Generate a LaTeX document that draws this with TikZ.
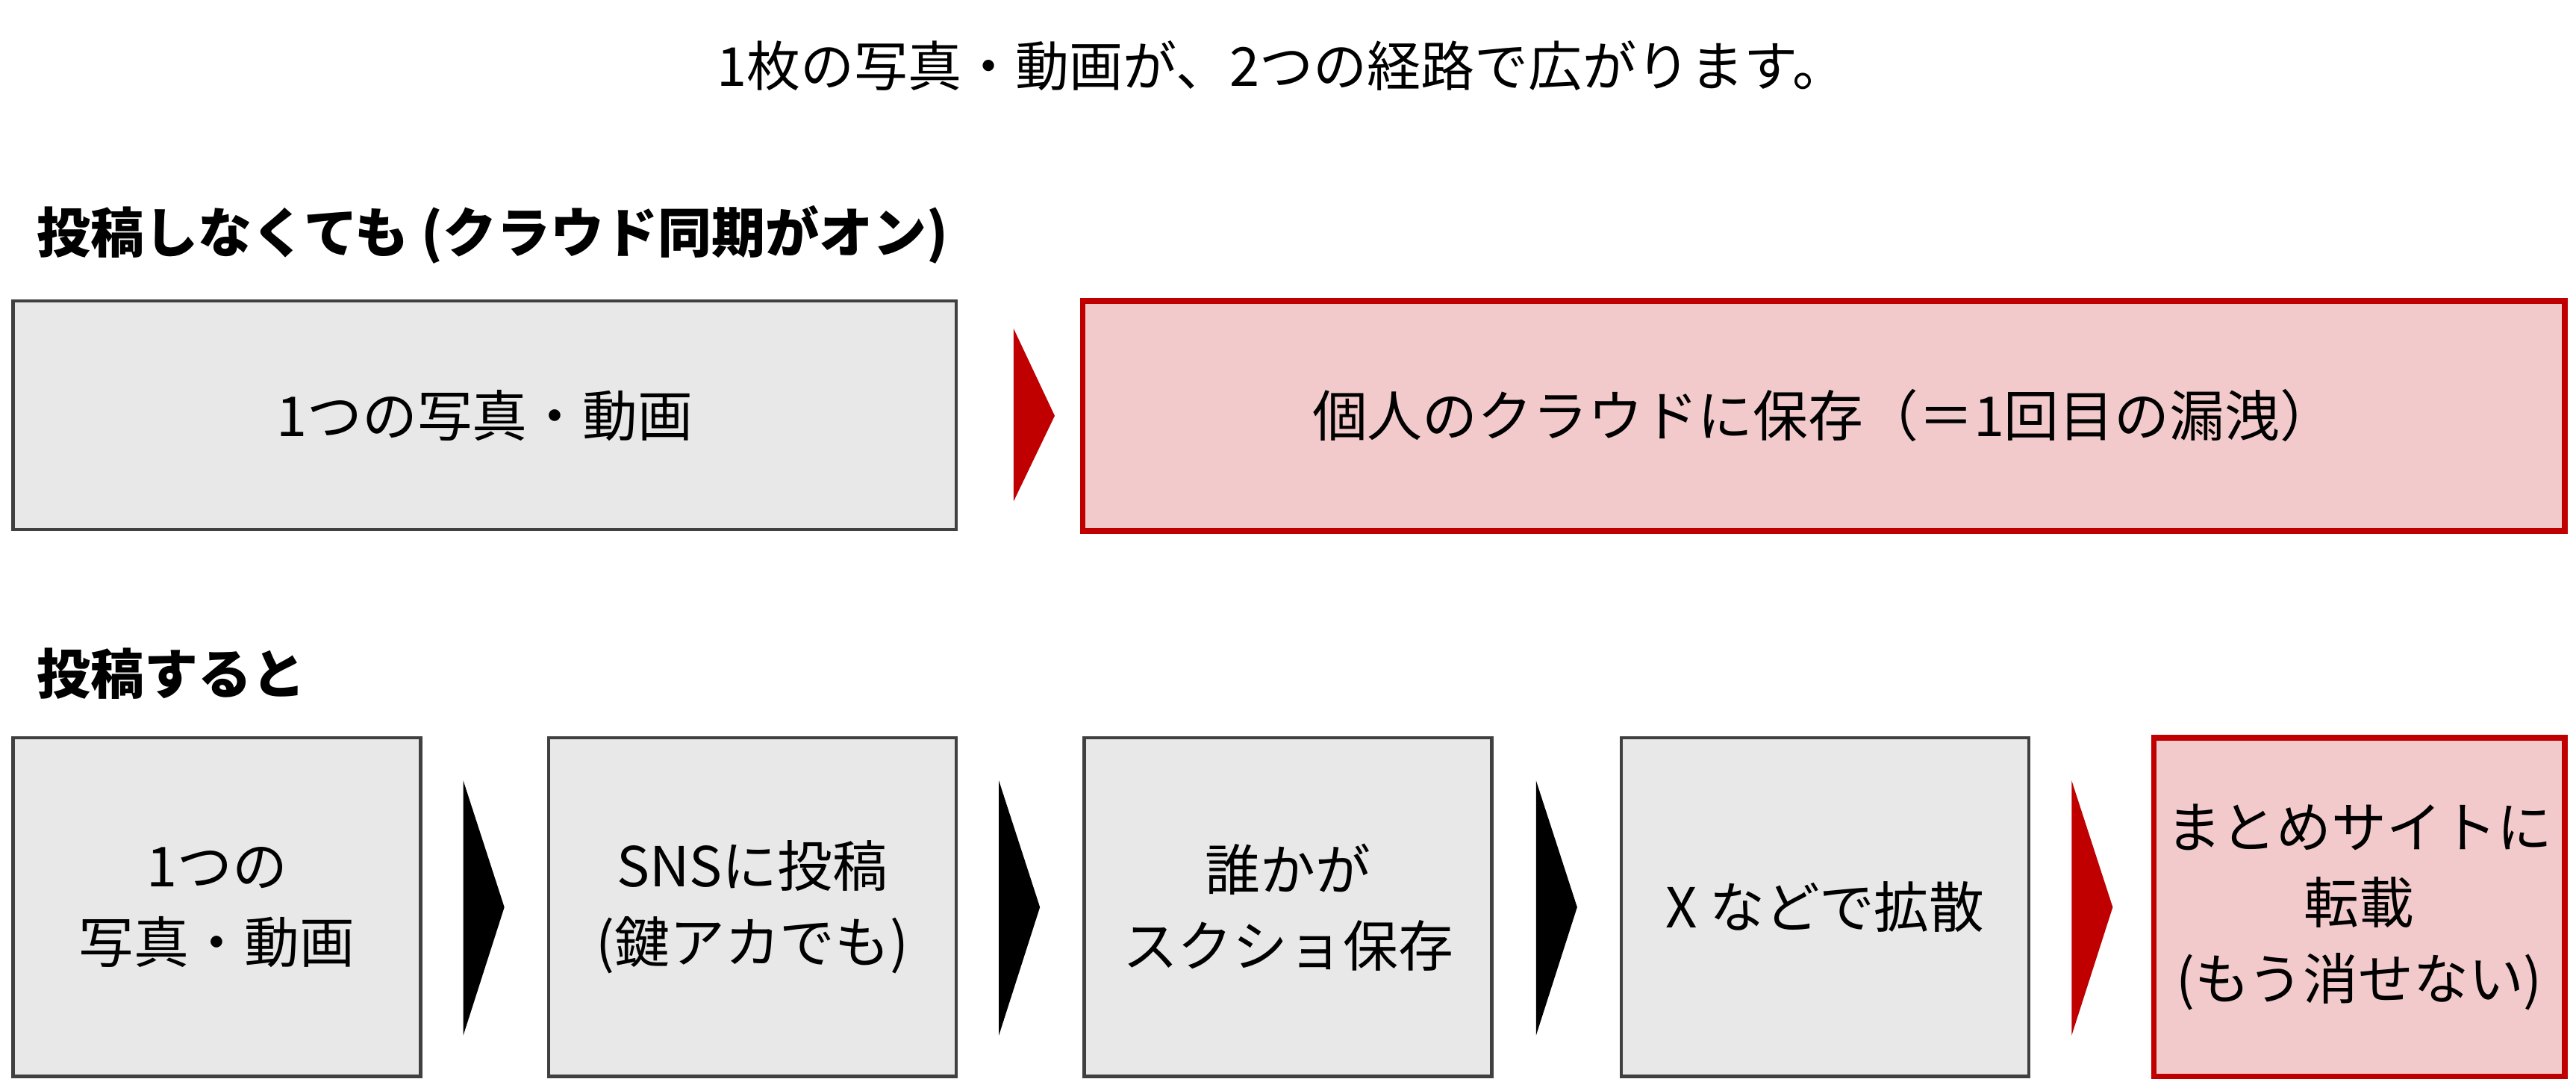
\documentclass[tikz,border=0pt]{standalone}
\usepackage{fontspec}
\setmainfont{Noto Sans CJK JP}
\usetikzlibrary{positioning}
\definecolor{boxgray}{HTML}{E8E8E8}
\definecolor{boxpink}{HTML}{F2CACB}
\definecolor{darkred}{HTML}{C00000}
\begin{document}
\begin{tikzpicture}[x=0.02201cm,y=-0.02201cm]
		\tikzstyle{txt}=[font=\fontsize{21}{29}\selectfont, align=center]
		\tikzstyle{grey}=[draw=black!75, line width=1.2pt, fill=boxgray]
		\tikzstyle{pink}=[draw=darkred, line width=2.2pt, fill=boxpink]
		\tikzstyle{head}=[font=\fontsize{20.5}{24}\selectfont\bfseries, anchor=west, inner sep=0pt]
		\useasboundingbox (0,0) rectangle (1568,658);
		
		\node[txt, font=\fontsize{20.5}{27}\selectfont] (title) at (780,40) {1枚の写真・動画が、2つの経路で広がります。};
		
		\node[head] (head1) at (22,143) {投稿しなくても (クラウド同期がオン)};
		\node[head] (head2) at (22,410) {投稿すると};
		
		% upper row
		\draw[grey] (8,183) rectangle (582,322);
		\node[txt] (photo) at (295,253) {1つの写真・動画};
		\fill[darkred] (617,200) -- (642,253) -- (617,305) -- cycle;
		\draw[pink] (659,183) rectangle (1561,323);
		\node[txt] (cloud) at (1110,253) {個人のクラウドに保存（＝1回目の漏洩）};
		
		% lower row
		\foreach \x/\nm/\t in {8/one/{1つの\\写真・動画}, 334/sns/{SNSに投稿\\(鍵アカでも)}, 660/shot/{誰かが\\スクショ保存}, 987/xpost/{X などで拡散}}{
			\draw[grey] (\x,449) rectangle ++(248,206);
			\node[txt] (\nm) at (\x+124,552) {\t};
		}
		\draw[pink] (1311,449) rectangle (1561,655);
		\node[txt] (matome) at (1436,552) {まとめサイトに\\転載\\(もう消せない)};
		
		\foreach \x in {282,608,935}{
			\fill[black] (\x,475) -- (\x+25,552) -- (\x,630) -- cycle;
		}
		\fill[darkred] (1261,475) -- (1286,552) -- (1261,630) -- cycle;
		
	\end{tikzpicture}
\end{document}
